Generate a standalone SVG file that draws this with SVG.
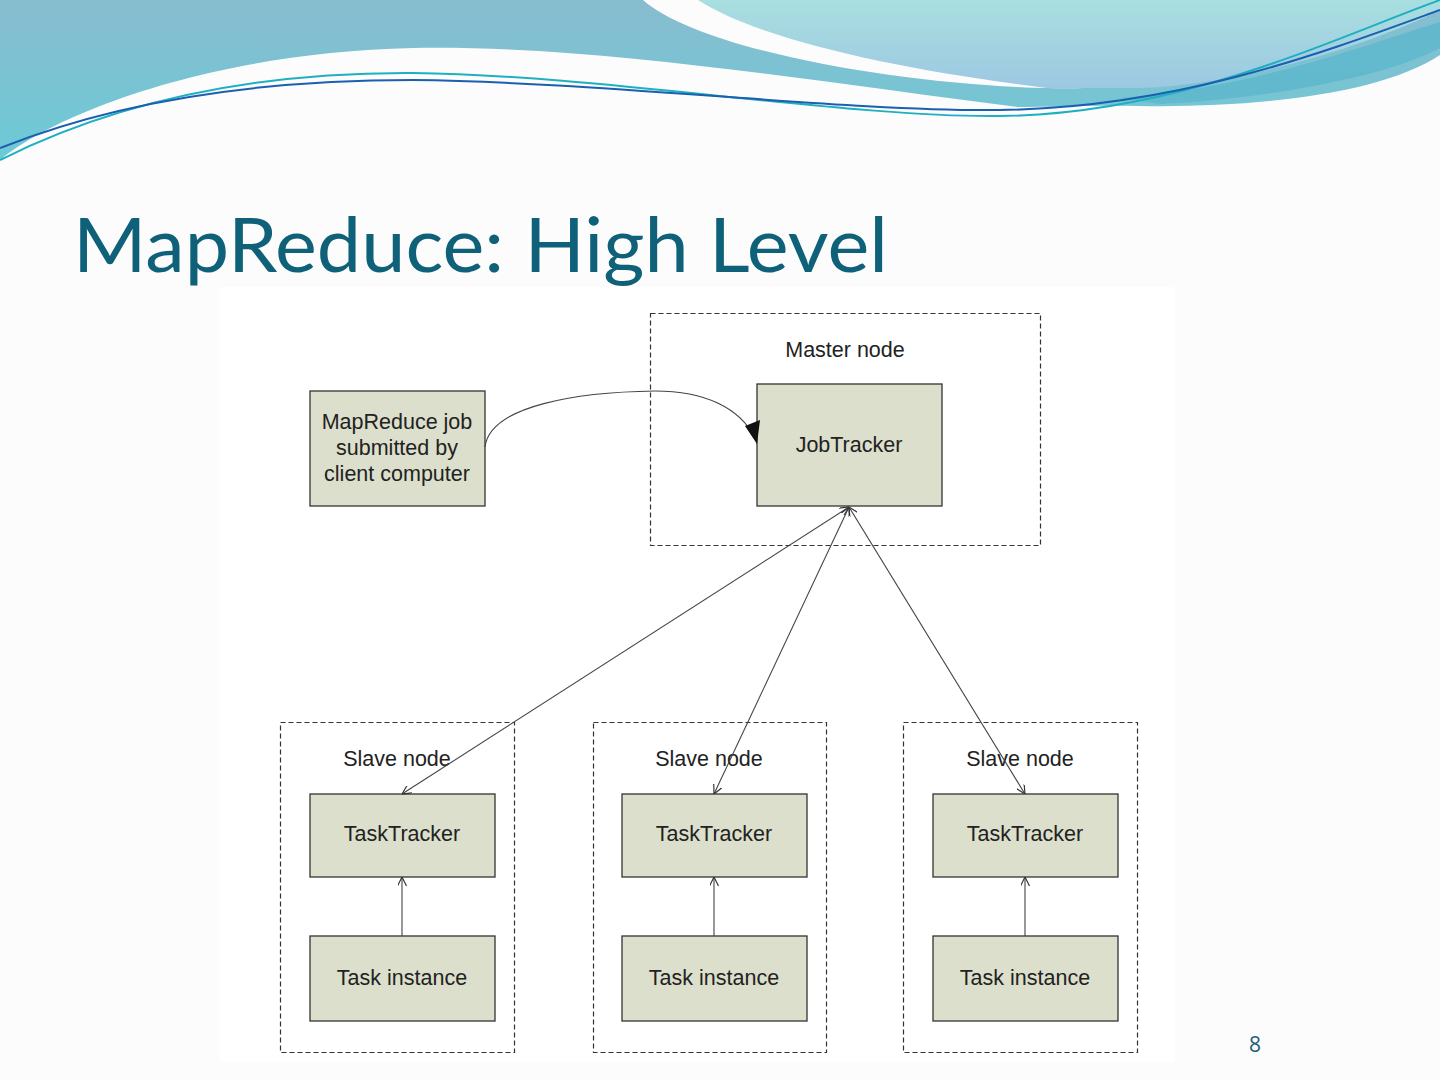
<svg xmlns="http://www.w3.org/2000/svg" width="1440" height="1080" viewBox="0 0 1440 1080">
<style>
.lbl{font-family:"Liberation Sans",Arial,sans-serif;font-size:21.5px;fill:#222;text-anchor:middle}
.box{fill:#dcdfcb;stroke:#333;stroke-width:1.3}
.dash{fill:none;stroke:#333;stroke-width:1.2;stroke-dasharray:5,3}
.conn{fill:none;stroke:#444;stroke-width:1.1}
</style>
<defs>
<linearGradient id="gL" x1="0" y1="0" x2="0" y2="1"><stop offset="0" stop-color="#88bccf"/><stop offset="1" stop-color="#6ccad6"/></linearGradient>
<linearGradient id="gR" x1="0" y1="0" x2="0" y2="1"><stop offset="0" stop-color="#a9dfe0"/><stop offset="1" stop-color="#9dc8e2"/></linearGradient>
<marker id="open" viewBox="0 0 10 10" refX="10" refY="5" markerWidth="9" markerHeight="9" orient="auto-start-reverse" markerUnits="userSpaceOnUse"><path d="M0,0 L10,5 L0,10" fill="none" stroke="#333" stroke-width="1.3"/></marker>
</defs>
<rect width="1440" height="1080" fill="#fcfcfc"/>
<g id="header">
<path d="M0,0 L643,0 C700,50 900,85 1047,88 C1200,92 1380,40 1440,10 L1440,55 C1380,95 1250,108 1139,106 C1090,105 1050,107 1019,107 C800,80 600,45 413,48 C220,52 60,110 0,160 Z" fill="url(#gL)"/>
<path d="M698,0 L1440,0 L1440,10 C1380,40 1250,85 1140,88 C1100,88 1070,88 1047,88 C900,70 760,40 698,0 Z" fill="url(#gR)"/>
<path d="M1120,98 C1250,90 1380,40 1440,22 L1440,48 C1380,80 1250,100 1160,104 Z" fill="#5cb6cc" opacity="0.8"/>
<path d="M0,160 C120,100 260,72 413,73 C600,75 850,118 1000,116 C1180,114 1330,40 1440,0" fill="none" stroke="#1fb0c0" stroke-width="2"/>
<path d="M0,148 C120,100 260,80 413,80 C600,82 850,112 1000,110 C1180,108 1330,50 1440,10" fill="none" stroke="#1a5fb0" stroke-width="2"/>
</g>
<text x="73" y="272" font-family="Lato,'Liberation Sans',sans-serif" font-size="76" fill="#0e6178" textLength="815" lengthAdjust="spacingAndGlyphs">MapReduce: High Level</text>
<rect x="220" y="287" width="955" height="775" fill="#ffffff"/>
<g id="master">
<rect class="dash" x="650.5" y="313.5" width="390" height="232"/>
<text class="lbl" x="845" y="357">Master node</text>
</g>
<g id="jobtracker">
<rect class="box" x="757" y="384" width="185" height="122"/>
<text class="lbl" x="849" y="452">JobTracker</text>
</g>
<g id="client">
<rect class="box" x="310" y="391" width="175" height="115"/>
<text class="lbl" x="397" y="429">MapReduce job</text>
<text class="lbl" x="397" y="455">submitted by</text>
<text class="lbl" x="397" y="481">client computer</text>
</g>
<g id="slave1">
<rect class="dash" x="280.5" y="722.5" width="234" height="330"/>
<text class="lbl" x="397" y="766">Slave node</text>
</g>
<g id="slave2">
<rect class="dash" x="593.5" y="722.5" width="233" height="330"/>
<text class="lbl" x="709" y="766">Slave node</text>
</g>
<g id="slave3">
<rect class="dash" x="903.5" y="722.5" width="234" height="330"/>
<text class="lbl" x="1020" y="766">Slave node</text>
</g>
<g id="tt1"><rect class="box" x="310" y="794" width="185" height="83"/><text class="lbl" x="402" y="841">TaskTracker</text></g>
<g id="tt2"><rect class="box" x="622" y="794" width="185" height="83"/><text class="lbl" x="714" y="841">TaskTracker</text></g>
<g id="tt3"><rect class="box" x="933" y="794" width="185" height="83"/><text class="lbl" x="1025" y="841">TaskTracker</text></g>
<g id="ti1"><rect class="box" x="310" y="936" width="185" height="85"/><text class="lbl" x="402" y="985">Task instance</text></g>
<g id="ti2"><rect class="box" x="622" y="936" width="185" height="85"/><text class="lbl" x="714" y="985">Task instance</text></g>
<g id="ti3"><rect class="box" x="933" y="936" width="185" height="85"/><text class="lbl" x="1025" y="985">Task instance</text></g>
<g id="connectors">
<path class="conn" d="M485,447 C490,405 580,392 655,391 C705,391 740,408 755,438"/>
<path d="M745,426 L760,420 L757,444 Z" fill="#111"/>
<line class="conn" x1="849" y1="507" x2="402" y2="794" marker-start="url(#open)" marker-end="url(#open)"/>
<line class="conn" x1="849" y1="507" x2="714" y2="794" marker-start="url(#open)" marker-end="url(#open)"/>
<line class="conn" x1="849" y1="507" x2="1025" y2="794" marker-start="url(#open)" marker-end="url(#open)"/>
<line class="conn" x1="402" y1="936" x2="402" y2="877" marker-end="url(#open)"/>
<line class="conn" x1="714" y1="936" x2="714" y2="877" marker-end="url(#open)"/>
<line class="conn" x1="1025" y1="936" x2="1025" y2="877" marker-end="url(#open)"/>
</g>
<text x="1255" y="1052" font-family="'Open Sans','Liberation Sans',sans-serif" font-size="21" fill="#1c5f78" text-anchor="middle">8</text>
</svg>
